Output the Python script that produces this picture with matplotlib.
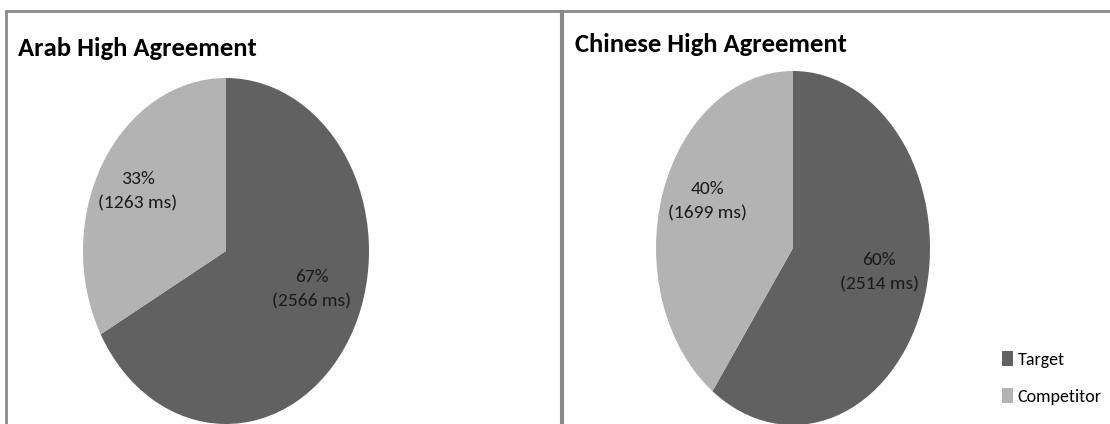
import matplotlib
matplotlib.use("Agg")
import matplotlib.pyplot as plt
from matplotlib.patches import Patch

plt.rcParams['font.family'] = ['Carlito', 'Lato', 'DejaVu Sans']

# ---- data ----
categories = ["Target", "Competitor"]
arab_pct = [67, 33]
arab_ms = [2566, 1263]
chinese_pct = [60, 40]
chinese_ms = [2514, 1699]
titles = ["Arab High Agreement", "Chinese High Agreement"]

# ---- style ----
colors = ["#616161", "#b3b3b3"]
border_color = "#8a8a8a"
W, H = 1110, 424

fig = plt.figure(figsize=(W / 100, H / 100), dpi=100)

# background axes in pixel coordinates
bg = fig.add_axes([0, 0, 1, 1])
bg.set_xlim(0, W)
bg.set_ylim(H, 0)
bg.axis("off")

# panel borders
bg.plot([5, W], [10.5, 10.5], color=border_color, lw=2, solid_capstyle="butt")
bg.plot([5.5, 5.5], [10, H], color=border_color, lw=2, solid_capstyle="butt")
bg.plot([561.5, 561.5], [10, H], color=border_color, lw=3, solid_capstyle="butt")

# pie geometry (pixel centers / radii)
pies = [
    dict(pct=arab_pct, ms=arab_ms, title=titles[0], cx=226, cy=251, rx=143, ry=173,
         title_xy=(18, 48),
         label_xy=[(312, 289), (138, 191)]),
    dict(pct=chinese_pct, ms=chinese_ms, title=titles[1], cx=793, cy=248, rx=137, ry=177,
         title_xy=(575, 44),
         label_xy=[(879, 272), (707, 201)]),
]

for p in pies:
    left = (p["cx"] - p["rx"]) / W
    bottom = (H - (p["cy"] + p["ry"])) / H
    ax = fig.add_axes([left, bottom, 2 * p["rx"] / W, 2 * p["ry"] / H])
    ax.pie(p["pct"], colors=colors, startangle=90, counterclock=False,
           wedgeprops=dict(linewidth=0))
    ax.set_aspect("auto")
    ax.set_xlim(-1, 1)
    ax.set_ylim(-1, 1)
    ax.axis("off")

# overlay axes for text (drawn above the pies)
top = fig.add_axes([0, 0, 1, 1])
top.set_xlim(0, W)
top.set_ylim(H, 0)
top.axis("off")
top.patch.set_alpha(0)

for p in pies:
    for (lx, ly), pc, ms in zip(p["label_xy"], p["pct"], p["ms"]):
        top.text(lx, ly, f"{pc}%\n({ms} ms)", ha="center", va="center",
                 fontsize=14, color="#1a1a1a", linespacing=1.65)
    top.text(p["title_xy"][0], p["title_xy"][1], p["title"], ha="left", va="center",
             fontsize=19.2, fontweight="bold", color="black")

handles = [Patch(facecolor=c, edgecolor="none") for c in colors]
top.legend(handles, categories, loc="upper left",
           bbox_to_anchor=(1002 / W, 1 - 351 / H), frameon=False,
           fontsize=13, handlelength=0.6, handleheight=0.9, handletextpad=0.25,
           labelspacing=1.15, borderpad=0, borderaxespad=0)

fig.savefig("out.png", dpi=100)
